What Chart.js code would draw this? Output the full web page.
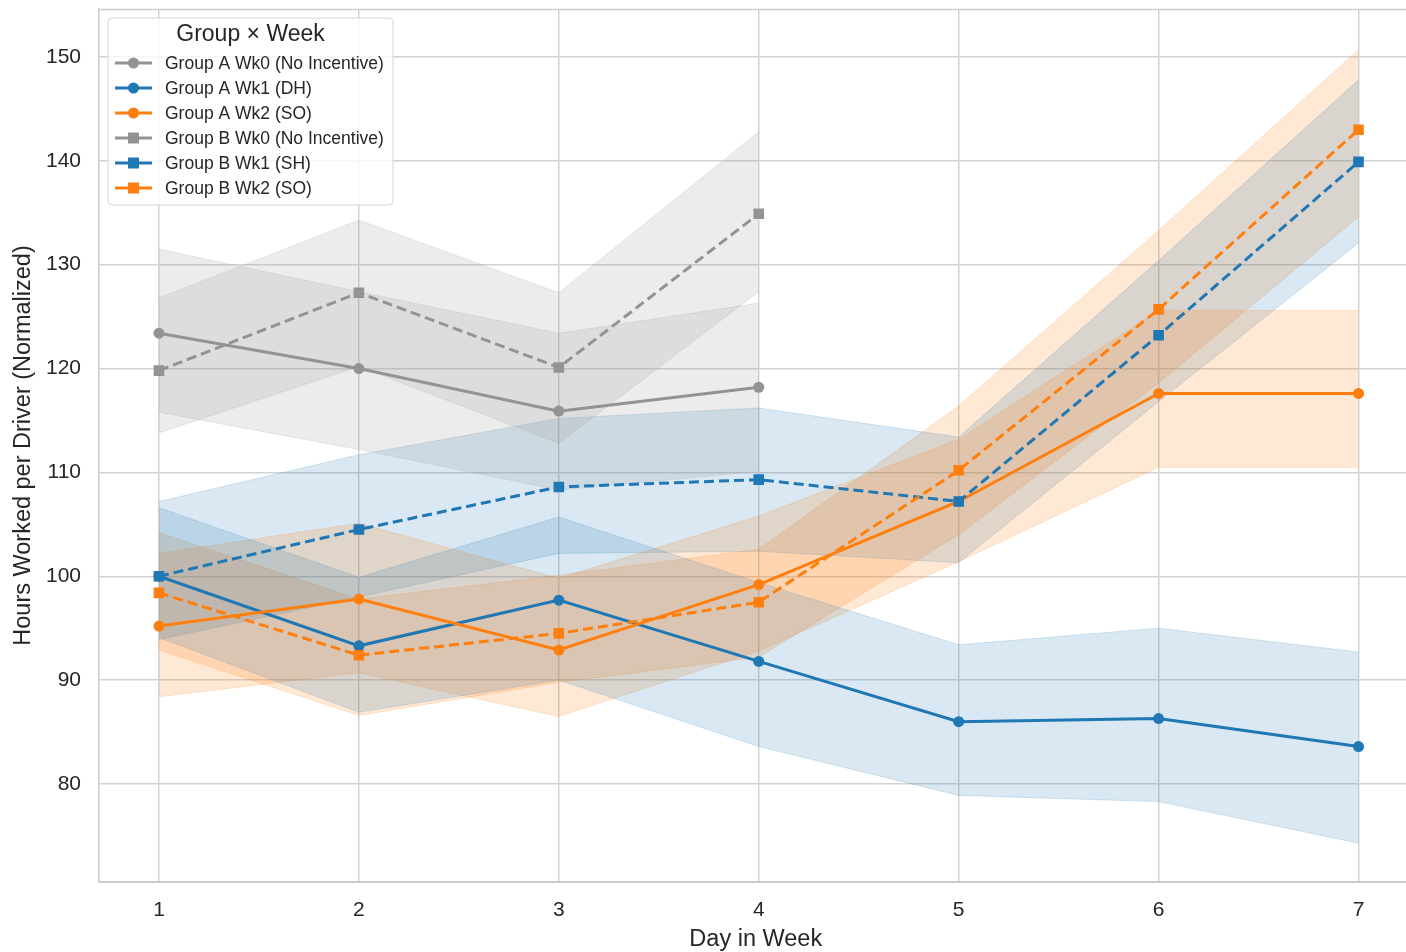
<!DOCTYPE html>
<html><head><meta charset="utf-8">
<script src="https://cdn.jsdelivr.net/npm/chart.js@4.4.0/dist/chart.umd.min.js"></script>
<style>
html,body{margin:0;padding:0;background:#fff;overflow:hidden;width:1406px;height:952px}
#wrap{width:1420px;height:952px;position:relative}
</style></head>
<body><div id="wrap"><canvas id="c" width="1420" height="952"></canvas></div>
<script>
// ---------- data ----------
const days = [1, 2, 3, 4, 5, 6, 7];
const xTicks = [1, 2, 3, 4, 5, 6, 7];
const yTicks = [80, 90, 100, 110, 120, 130, 140, 150];
const legendTitle = "Group × Week";
const seriesNames = [
  "Group A Wk0 (No Incentive)",
  "Group A Wk1 (DH)",
  "Group A Wk2 (SO)",
  "Group B Wk0 (No Incentive)",
  "Group B Wk1 (SH)",
  "Group B Wk2 (SO)"
];
// means
const aWk0 = [123.4, 120.0, 115.9, 118.2];
const aWk1 = [100.0, 93.3, 97.7, 91.8, 86.0, 86.3, 83.6];
const aWk2 = [95.2, 97.8, 92.9, 99.2, 107.2, 117.6, 117.6];
const bWk0 = [119.8, 127.3, 120.1, 134.9];
const bWk1 = [100.0, 104.5, 108.6, 109.3, 107.2, 123.2, 139.9];
const bWk2 = [98.4, 92.4, 94.5, 97.5, 110.2, 125.7, 143.0];
// confidence bands (lower / upper)
const aWk0Lo = [115.8, 112.2, 108.3, 110.1];
const aWk0Hi = [131.5, 127.4, 123.4, 126.3];
const aWk1Lo = [94.1, 86.9, 90.0, 83.6, 78.9, 78.3, 74.3];
const aWk1Hi = [106.6, 99.9, 105.7, 99.4, 93.4, 95.0, 92.7];
const aWk2Lo = [88.4, 90.7, 86.5, 92.8, 101.4, 110.5, 110.5];
const aWk2Hi = [102.2, 105.1, 99.8, 105.8, 113.2, 125.6, 125.6];
const bWk0Lo = [113.8, 120.2, 112.8, 127.4];
const bWk0Hi = [126.8, 134.3, 127.3, 142.8];
const bWk1Lo = [93.9, 98.0, 102.2, 102.4, 101.3, 116.8, 132.1];
const bWk1Hi = [107.2, 111.7, 115.2, 116.2, 113.4, 130.4, 147.8];
const bWk2Lo = [92.9, 86.6, 89.8, 92.2, 104.0, 118.6, 134.6];
const bWk2Hi = [104.2, 97.8, 100.1, 102.6, 116.4, 133.3, 150.7];

// ---------- styles ----------
const GRAY = '#939393', BLUE = '#1f77b4', ORANGE = '#ff7f0e';
const bandAlpha = c => c === GRAY ? 'rgba(147,147,147,0.18)' : c === BLUE ? 'rgba(31,119,180,0.17)' : 'rgba(255,127,14,0.18)';
const series = [
  {name: seriesNames[0], mean: aWk0, lo: aWk0Lo, hi: aWk0Hi, color: GRAY, marker: 'circle', dash: []},
  {name: seriesNames[1], mean: aWk1, lo: aWk1Lo, hi: aWk1Hi, color: BLUE, marker: 'circle', dash: []},
  {name: seriesNames[2], mean: aWk2, lo: aWk2Lo, hi: aWk2Hi, color: ORANGE, marker: 'circle', dash: []},
  {name: seriesNames[3], mean: bWk0, lo: bWk0Lo, hi: bWk0Hi, color: GRAY, marker: 'rect', dash: [10, 5]},
  {name: seriesNames[4], mean: bWk1, lo: bWk1Lo, hi: bWk1Hi, color: BLUE, marker: 'rect', dash: [10, 5]},
  {name: seriesNames[5], mean: bWk2, lo: bWk2Lo, hi: bWk2Hi, color: ORANGE, marker: 'rect', dash: [10, 5]}
];
const pts = arr => arr.map((v, i) => ({x: days[i], y: v}));

const datasets = [];
series.forEach((s, k) => {
  datasets.push({label: s.name + ' lo', data: pts(s.lo), borderColor: bandAlpha(s.color), borderWidth: 1,
    pointRadius: 0, fill: false, order: 20, tension: 0});
  datasets.push({label: s.name + ' hi', data: pts(s.hi), borderColor: bandAlpha(s.color), borderWidth: 1,
    backgroundColor: bandAlpha(s.color), pointRadius: 0, fill: '-1', order: 20, tension: 0});
});
series.forEach((s, k) => {
  datasets.push({label: s.name, data: pts(s.mean), borderColor: s.color, borderWidth: 3, borderDash: s.dash,
    pointStyle: s.marker, pointRadius: s.marker === 'rect' ? 7.5 : 5.5, pointBackgroundColor: s.color,
    pointBorderWidth: 0, fill: false, order: 10 - k, tension: 0});
});

const FONT = 'Arial, "Liberation Sans", sans-serif';
const TXT = '#262626';

const frame = {
  id: 'frame',
  afterDatasetsDraw(chart) {
    const {ctx, chartArea: ca} = chart;
    ctx.save();
    ctx.strokeStyle = '#cccccc'; ctx.lineWidth = 1.5;
    ctx.beginPath(); ctx.moveTo(ca.left, ca.top + 0.5); ctx.lineTo(ca.right, ca.top + 0.5); ctx.stroke();
    ctx.restore();
  },
  afterDraw(chart) {
    const {ctx, chartArea: ca} = chart;
    const x0 = ca.left + 9, y0 = ca.top + 9, w = 285, h = 187, r = 4;
    ctx.save();
    ctx.beginPath();
    ctx.moveTo(x0 + r, y0); ctx.lineTo(x0 + w - r, y0); ctx.quadraticCurveTo(x0 + w, y0, x0 + w, y0 + r);
    ctx.lineTo(x0 + w, y0 + h - r); ctx.quadraticCurveTo(x0 + w, y0 + h, x0 + w - r, y0 + h);
    ctx.lineTo(x0 + r, y0 + h); ctx.quadraticCurveTo(x0, y0 + h, x0, y0 + h - r);
    ctx.lineTo(x0, y0 + r); ctx.quadraticCurveTo(x0, y0, x0 + r, y0); ctx.closePath();
    ctx.fillStyle = 'rgba(255,255,255,0.8)'; ctx.fill();
    ctx.strokeStyle = '#d6d6d6'; ctx.lineWidth = 1; ctx.stroke();
    ctx.fillStyle = TXT; ctx.textAlign = 'center'; ctx.textBaseline = 'middle';
    ctx.font = '23px ' + FONT;
    ctx.fillText(legendTitle, x0 + w / 2, y0 + 17);
    ctx.font = '17.5px ' + FONT; ctx.textAlign = 'left';
    series.forEach((s, i) => {
      const y = y0 + 45 + 25 * i;
      ctx.strokeStyle = s.color; ctx.lineWidth = 3; ctx.setLineDash([]);
      ctx.beginPath(); ctx.moveTo(x0 + 7, y); ctx.lineTo(x0 + 44, y); ctx.stroke();
      ctx.fillStyle = s.color;
      if (s.marker === 'rect') { ctx.fillRect(x0 + 25.5 - 5.5, y - 5.5, 11, 11); }
      else { ctx.beginPath(); ctx.arc(x0 + 25.5, y, 5.5, 0, Math.PI * 2); ctx.fill(); }
      ctx.fillStyle = TXT;
      ctx.fillText(s.name, x0 + 57, y + 1);
    });
    ctx.restore();
  }
};

new Chart(document.getElementById('c'), {
  type: 'line',
  data: {datasets},
  options: {
    responsive: false, animation: false, devicePixelRatio: 1,
    layout: {padding: {left: 0, top: 9, right: 3, bottom: 0}},
    plugins: {legend: {display: false}, tooltip: {enabled: false}, title: {display: false},
      filler: {propagate: false}},
    scales: {
      x: {
        type: 'linear', min: 0.7, max: 7.27,
        afterFit: s => { s.height = 70; s.paddingLeft = 0; s.paddingRight = 0; },
        afterBuildTicks: s => { s.ticks = xTicks.map(v => ({value: v})); },
        ticks: {font: {size: 21, family: FONT}, color: TXT, padding: 16, callback: v => String(v)},
        grid: {color: '#d3d3d3', lineWidth: 1.5, drawTicks: false},
        border: {display: true, color: '#cccccc', width: 2},
        title: {display: true, text: 'Day in Week', font: {size: 23.5, family: FONT}, color: TXT, padding: {top: 0, bottom: -2}}
      },
      y: {
        type: 'linear', min: 70.56, max: 154.62,
        afterFit: s => { s.width = 99; s.paddingTop = 0; s.paddingBottom = 0; },
        afterBuildTicks: s => { s.ticks = yTicks.map(v => ({value: v})); },
        ticks: {font: {size: 21, family: FONT}, color: TXT, padding: 18, callback: v => String(v)},
        grid: {color: '#d3d3d3', lineWidth: 1.5, drawTicks: false},
        border: {display: true, color: '#cccccc', width: 1.5},
        title: {display: true, text: 'Hours Worked per Driver (Normalized)', font: {size: 23.5, family: FONT}, color: TXT, padding: {top: 9, bottom: 4}}
      }
    }
  },
  plugins: [frame]
});
</script></body></html>
